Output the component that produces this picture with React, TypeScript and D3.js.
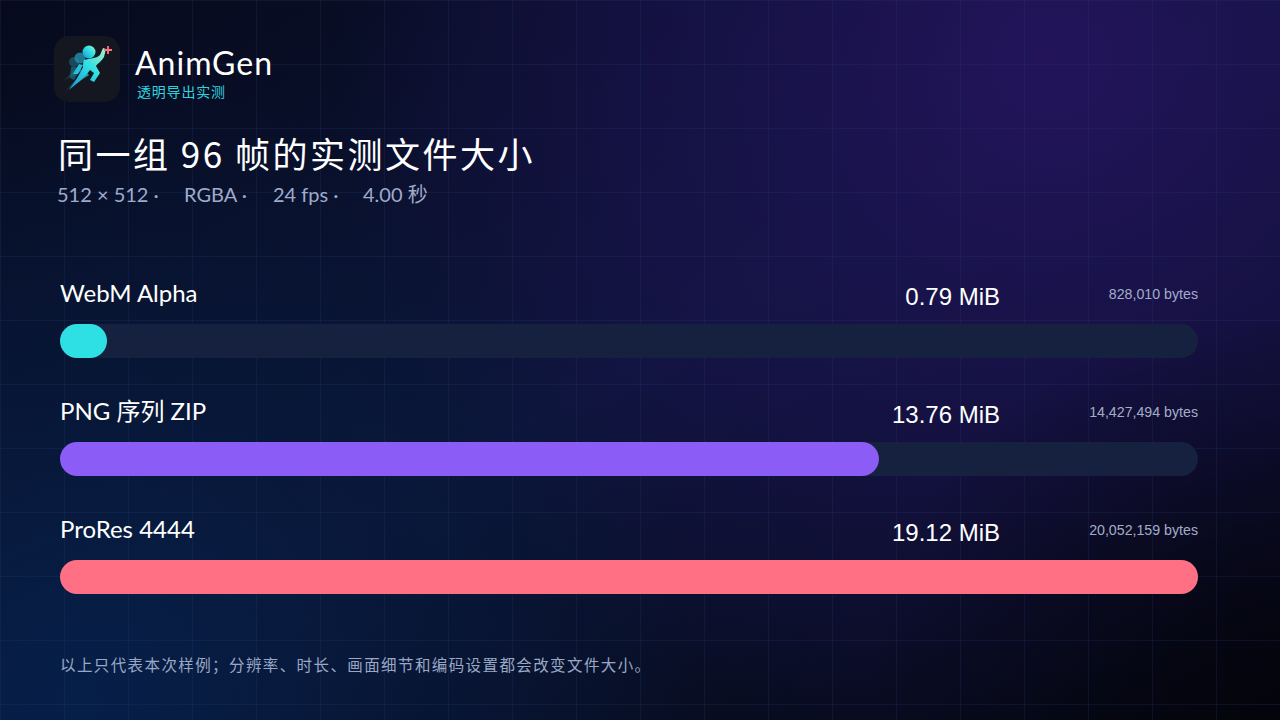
import React from "react";
import * as d3 from "d3";

const formats = ["WebM Alpha", "PNG 序列 ZIP", "ProRes 4444"];
const sizesMiB = [0.79, 13.76, 19.12];
const sizesBytes = [828010, 14427494, 20052159];
const barColors = ["#2ee0e4", "#8b5cf6", "#ff7085"];

const brandName = "AnimGen";
const brandTag = "透明导出实测";
const title = "同一组 96 帧的实测文件大小";
const subtitleParts = ["512 × 512 ·", "RGBA ·", "24 fps ·", "4.00 秒"];
const subtitleX = [57, 184, 273, 363];
const footnote = "以上只代表本次样例；分辨率、时长、画面细节和编码设置都会改变文件大小。";

const W = 1280;
const H = 720;
const latin = "'Lato', 'Noto Sans CJK SC', sans-serif";
const arial = "'Liberation Sans', 'Noto Sans CJK SC', sans-serif";
const cjk = "'Noto Sans CJK SC', 'Lato', sans-serif";

export default function App() {
  const x = d3.scaleLinear().domain([0, d3.max(sizesMiB) as number]).range([0, 1138]);
  const y = d3.scalePoint<string>().domain(formats).range([324, 560]);
  const gridX = d3.range(0, W + 1, 64);
  const gridY = d3.range(0, H + 1, 64);
  const fmt = d3.format(",");
  const barH = 34;

  return (
    <svg width={W} height={H} style={{ position: "absolute", left: 0, top: 0, display: "block" }}>
      <defs>
        <linearGradient id="bg" x1="0" y1="0" x2="1" y2="1">
          <stop offset="0" stopColor="#060a1c" />
          <stop offset="0.5" stopColor="#0c1538" />
          <stop offset="1" stopColor="#04060f" />
        </linearGradient>
        <radialGradient id="purple" cx="1050" cy="60" r="720" gradientUnits="userSpaceOnUse">
          <stop offset="0" stopColor="#24145c" stopOpacity="0.95" />
          <stop offset="0.6" stopColor="#1b1250" stopOpacity="0.55" />
          <stop offset="1" stopColor="#1b1250" stopOpacity="0" />
        </radialGradient>
        <radialGradient id="blue" cx="80" cy="700" r="620" gradientUnits="userSpaceOnUse">
          <stop offset="0" stopColor="#06204a" stopOpacity="0.95" />
          <stop offset="0.6" stopColor="#061a3c" stopOpacity="0.5" />
          <stop offset="1" stopColor="#061a3c" stopOpacity="0" />
        </radialGradient>
        <radialGradient id="dark" cx="1280" cy="720" r="420" gradientUnits="userSpaceOnUse">
          <stop offset="0" stopColor="#03040a" stopOpacity="0.9" />
          <stop offset="1" stopColor="#03040a" stopOpacity="0" />
        </radialGradient>
        <linearGradient id="runner" x1="0" y1="1" x2="1" y2="0">
          <stop offset="0" stopColor="#1a8fd6" />
          <stop offset="0.55" stopColor="#2ee0e4" />
          <stop offset="1" stopColor="#a8f0c0" />
        </linearGradient>
        <linearGradient id="streak" x1="0" y1="1" x2="1" y2="0">
          <stop offset="0" stopColor="#2ee0e4" stopOpacity="0" />
          <stop offset="1" stopColor="#2ee0e4" stopOpacity="0.9" />
        </linearGradient>
      </defs>

      <rect width={W} height={H} fill="url(#bg)" />
      <rect width={W} height={H} fill="url(#purple)" />
      <rect width={W} height={H} fill="url(#blue)" />
      <rect width={W} height={H} fill="url(#dark)" />

      <g stroke="#2a3f78" strokeOpacity={0.22} strokeWidth={1}>
        {gridX.map((gx) => (
          <line key={"gx" + gx} x1={gx + 0.5} x2={gx + 0.5} y1={0} y2={H} />
        ))}
        {gridY.map((gy) => (
          <line key={"gy" + gy} x1={0} x2={W} y1={gy + 0.5} y2={gy + 0.5} />
        ))}
      </g>

      {/* logo */}
      <g transform="translate(54,36)">
        <rect width={66} height={66} rx={15} fill="#14171f" />
        <path d="M10,56 L31,35 L35,39 Z" fill="url(#streak)" opacity={0.85} />
        <path d="M8,46 L25,30 L28,35 Z" fill="url(#streak)" opacity={0.55} />
        <circle cx={20} cy={26} r={5} fill="#1b5f78" opacity={0.7} />
        <circle cx={26} cy={22} r={5.5} fill="#2390ae" opacity={0.8} />
        <path d="M17,31 C20,30 24,31 26,34 L20,44 L16,42 Z" fill="#1c6e88" opacity={0.7} />
        <circle cx={35} cy={16} r={6.5} fill="url(#runner)" />
        <path
          d="M30,24 C36,22 42,23 46,19 L49,12 L52,13 L50,21 C47,26 43,28 42,30 L46,37 L40,46 L36,44 L40,37 L36,34 C32,40 25,46 15,54 C22,44 27,36 29,31 C29,28 29,26 30,24 Z"
          fill="url(#runner)"
        />
        <path d="M29,29 L24,38 L19,38 L25,28 Z" fill="#27c0d8" />
        <path d="M54,10 L54,18 M50,14 L58,14" stroke="#ff6f7f" strokeWidth={1.8} />
      </g>
      <text x={135} y={75} fill="#ffffff" fontFamily={latin} fontSize={32} letterSpacing={1}>
        {brandName}
      </text>
      <text x={137} y={97} fill="#2fd3df" fontFamily={cjk} fontSize={14} letterSpacing={0.8}>
        {brandTag}
      </text>

      <text x={58} y={168} fill="#ffffff" fontFamily={cjk} fontSize={35} letterSpacing={2.5}>
        {title}
      </text>
      {subtitleParts.map((p, i) => (
        <text key={p} x={subtitleX[i]} y={202} fill="#9fabcb" fontFamily={latin} fontSize={20} xmlSpace="preserve" style={{ whiteSpace: "pre" }}>
          {p}
        </text>
      ))}

      {formats.map((f, i) => {
        const by = y(f) as number;
        return (
          <g key={f}>
            <text x={60} y={by - 22} fill="#ffffff" fontFamily={latin} fontSize={24}>
              {f}
            </text>
            <text x={1000} y={by - 19} fill="#ffffff" fontFamily={arial} fontSize={24} textAnchor="end">
              {sizesMiB[i].toFixed(2)} MiB
            </text>
            <text x={1198} y={by - 25} fill="#a3adc8" fontFamily={arial} fontSize={14.2} textAnchor="end">
              {fmt(sizesBytes[i])} bytes
            </text>
            <rect x={60} y={by} width={x.range()[1]} height={barH} rx={barH / 2} fill="#15213e" />
            <rect x={60} y={by} width={x(sizesMiB[i])} height={barH} rx={barH / 2} fill={barColors[i]} />
          </g>
        );
      })}

      <text x={60} y={671} fill="#9aa8c6" fontFamily={cjk} fontSize={15.5} letterSpacing={1.4}>
        {footnote}
      </text>
    </svg>
  );
}
